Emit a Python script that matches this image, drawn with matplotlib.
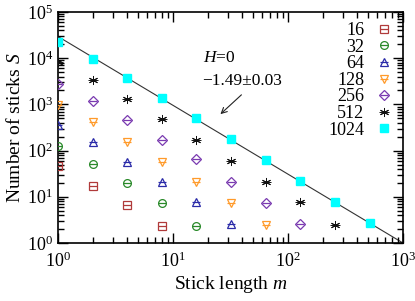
import matplotlib
matplotlib.use("Agg")
import matplotlib.pyplot as plt
import numpy as np
from matplotlib.ticker import LogLocator, NullFormatter
from matplotlib.legend_handler import HandlerTuple

plt.rcParams['font.family'] = ['Liberation Serif', 'DejaVu Serif']
plt.rcParams['mathtext.fontset'] = 'custom'
plt.rcParams['mathtext.rm'] = 'Liberation Serif'
plt.rcParams['mathtext.it'] = 'Liberation Serif:italic'

sizes = ['16', '32', '64', '128', '256', '512', '1024']
m_all = [1, 2, 4, 8, 16, 32, 64, 128, 256, 512]
S_16 = [46.4, 17.4, 6.65, 2.33]
S_32 = [126, 51, 19.6, 7.2, 2.37]
S_64 = [358, 156, 57.5, 21, 7.6, 2.54]
S_128 = [970, 410, 156, 56, 21.2, 7.2, 2.45]
S_256 = [2765, 1205, 459, 169, 66, 21.2, 7.5, 2.54]
S_512 = [8150, 3375, 1309, 483, 170, 59.6, 21.2, 7.6, 2.45]
S_1024 = [22700, 9750, 3780, 1380, 508, 178, 63, 22, 7.8, 2.67]
series = [S_16, S_32, S_64, S_128, S_256, S_512, S_1024]
fit_amp = 2.95e4
fit_slope = -1.49
fit_m = [1, 1000]

colors = ['#b03a3a', '#2a8a2a', '#2a2aa8', '#ff9a2a', '#7a3ab0', '#111111', '#00ffff']
markers = ['s', 'o', '^', 'v', 'D', '*', 's']
msizes = [5.2, 5.6, 5.6, 5.6, 5.4, 6.5, 6.2]

fig = plt.figure(figsize=(4.15, 3.01), dpi=100)
ax = fig.add_axes([58/415, 1-243/301, (403-58)/415, (243-12)/301])

ax.plot(fit_m, [fit_amp * x ** fit_slope for x in fit_m], color='#333333', lw=0.8, zorder=1)

handles = []
for i, (lab, S) in enumerate(zip(sizes, series)):
    m = m_all[:len(S)]
    c = colors[i]
    if lab == '1024':
        h = ax.plot(m, S, ls='none', marker='s', ms=msizes[i], mfc=c, mec=c, zorder=3)[0]
        handles.append(h)
    elif lab == '512':
        h1 = ax.plot(m, S, ls='none', marker=(6, 2, 0), ms=msizes[i], mec=c, mew=0.7, zorder=3)[0]
        h2 = ax.plot(m, S, ls='none', marker='_', ms=msizes[i], mec=c, mew=0.7, zorder=3)[0]
        handles.append((h1, h2))
    else:
        h1 = ax.plot(m, S, ls='none', marker=markers[i], ms=msizes[i], mfc='none',
                     mec=c, mew=0.9, zorder=3)[0]
        h2 = ax.plot(m, S, ls='none', marker='_', ms=msizes[i], mec=c, mew=0.9, zorder=3)[0]
        handles.append((h1, h2))

ax.set_xscale('log')
ax.set_yscale('log')
ax.set_xlim(1, 1000)
ax.set_ylim(1, 1e5)

ax.xaxis.set_major_locator(LogLocator(base=10, numticks=10))
ax.yaxis.set_major_locator(LogLocator(base=10, numticks=10))
ax.xaxis.set_minor_locator(LogLocator(base=10, subs=np.arange(2, 10), numticks=10))
ax.yaxis.set_minor_locator(LogLocator(base=10, subs=np.arange(2, 10), numticks=10))
ax.xaxis.set_minor_formatter(NullFormatter())
ax.yaxis.set_minor_formatter(NullFormatter())
ax.tick_params(which='both', direction='in', top=True, right=True, labelsize=13)
ax.tick_params(which='major', length=7, width=1)
ax.tick_params(which='minor', length=4, width=1)
ax.tick_params(axis='x', pad=6)
for sp in ax.spines.values():
    sp.set_linewidth(1.2)

ax.set_xlabel('Stick length $m$', fontsize=14, labelpad=2)
ax.set_ylabel('Number of sticks $S$', fontsize=14, labelpad=2)

leg = ax.legend(handles, sizes, loc='upper right', frameon=False, markerfirst=False,
                fontsize=13, handlelength=1.0, handletextpad=0.6, labelspacing=-0.02,
                borderaxespad=0.15, handler_map={tuple: HandlerTuple(ndivide=1)})
for t in leg.get_texts():
    t.set_ha('right')

ax.text(18.4, 1.0e4, '$H$=0', fontsize=12.5, va='center')
ax.text(18.0, 3.2e3, '\u22121.49\u00b10.03', fontsize=12.5, va='center')
ax.annotate('', xy=(24.8, 5.6e2), xytext=(41, 1.77e3),
            arrowprops=dict(arrowstyle='->', color='#222222', lw=0.8))

fig.savefig('out.png', dpi=100)
